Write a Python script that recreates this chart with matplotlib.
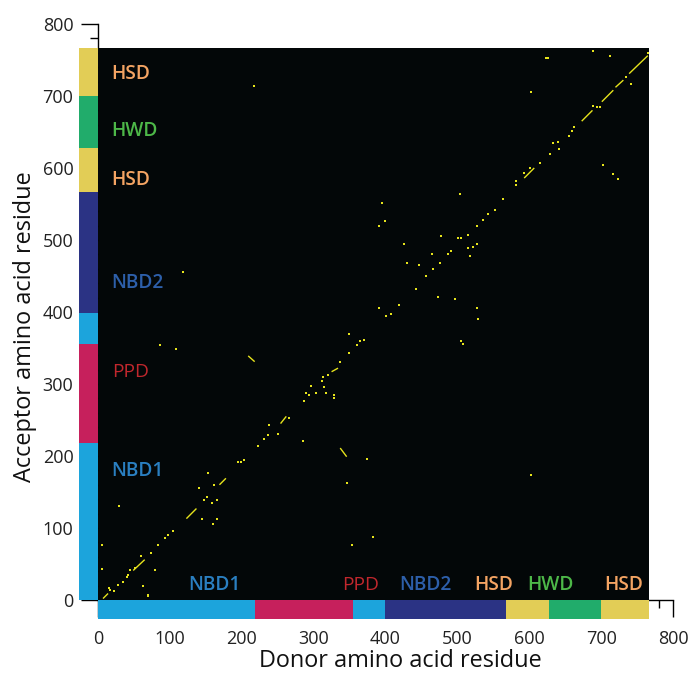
import numpy as np
import matplotlib.pyplot as plt
from matplotlib.patches import Rectangle

plt.rcParams['font.family'] = ['Open Sans', 'DejaVu Sans']

# sequence length covered by the map
n_residues = 766

# domain architecture along the sequence (same on both axes)
domain_names = ['NBD1', 'PPD', 'NBD1', 'NBD2', 'HSD', 'HWD', 'HSD']
domain_starts = [0, 218, 355, 399, 567, 628, 700]
domain_ends = [218, 355, 399, 567, 628, 700, 766]

# single contacts (donor residue, acceptor residue)
donor = [5, 17, 28, 62, 69, 79, 42, 51, 16, 22, 35, 41, 44, 60, 70, 63, 5, 74,
         83, 93, 97, 104, 29, 145, 160, 165, 141, 148, 152, 158, 166, 153, 162,
         195, 199, 203, 223, 231, 236, 250, 238, 266, 285, 286, 289, 293, 296,
         304, 311, 313, 314, 317, 320, 328, 328, 337, 349, 349, 360, 364, 370,
         391, 401, 407, 419, 442, 473, 374, 347, 382, 354, 395, 399, 391, 426,
         430, 447, 466, 457, 465, 476, 477, 487, 491, 501, 505, 504, 515, 515,
         517, 522, 527, 527, 536, 542, 552, 564, 582, 582, 497, 527, 529, 505,
         508, 593, 601, 615, 629, 633, 640, 641, 655, 659, 663, 689, 695, 698,
         735, 741, 765, 689, 712, 623, 626, 602, 702, 716, 724, 217, 118, 86,
         109, 602]
acceptor = [43, 14, 21, 19, 5, 42, 35, 44, 16, 13, 25, 32, 42, 61, 7, 20, 76, 65,
            76, 86, 90, 96, 130, 113, 106, 113, 155, 139, 143, 134, 139, 177, 160,
            191, 192, 194, 214, 223, 229, 231, 243, 253, 221, 277, 288, 284, 297,
            288, 304, 309, 296, 288, 313, 284, 280, 331, 343, 369, 354, 359, 361,
            405, 394, 397, 409, 432, 421, 196, 163, 87, 77, 551, 527, 520, 495,
            468, 465, 460, 450, 481, 468, 505, 481, 484, 503, 503, 564, 507, 489,
            478, 490, 494, 520, 528, 536, 542, 557, 582, 576, 418, 405, 390, 360,
            356, 593, 600, 607, 620, 634, 636, 627, 645, 652, 657, 686, 685, 685,
            726, 716, 760, 763, 755, 753, 753, 706, 604, 591, 585, 714, 456, 354,
            349, 173]

# runs of contacts (helices / strands): donor start, acceptor start, donor end, acceptor end
run_donor_start = [7, 49, 123, 169, 254, 325, 593, 673, 701, 720, 739, 337, 209]
run_acc_start = [2, 41, 113, 160, 245, 317, 586, 665, 692, 712, 731, 211, 339]
run_donor_end = [14, 65, 137, 178, 262, 334, 607, 688, 717, 731, 765, 346, 218]
run_acc_end = [9, 56, 127, 169, 255, 322, 600, 680, 708, 722, 756, 199, 331]

bar_colors = {'NBD1': '#1ca4dc', 'PPD': '#c6205c', 'NBD2': '#2b3384',
              'HSD': '#e2cd56', 'HWD': '#21ac6b'}
text_colors = {'NBD1': '#2a7fc1', 'PPD': '#c1272d', 'NBD2': '#2d5faa',
               'HSD': '#f4a463', 'HWD': '#4db848'}
dot_color = '#e6e31c'

fig = plt.figure(figsize=(6.91, 6.73), dpi=100)
ax = fig.add_axes([0.1418, 0.1085, 0.8321, 0.8559])

ax.set_xlim(0, 800)
ax.set_ylim(0, 800)

# black map background
ax.add_patch(Rectangle((0, 0), n_residues, n_residues, facecolor='#030708',
                       edgecolor='none', zorder=1))

for x0, y0, x1, y1 in zip(run_donor_start, run_acc_start, run_donor_end, run_acc_end):
    ax.plot([x0, x1], [y0, y1], color=dot_color, lw=1.0, solid_capstyle='butt', zorder=2)
ax.plot(donor, acceptor, 's', ms=1.7, mew=0, color=dot_color, zorder=2)

# domain bars along both axes
bar = 26
for name, s, e in zip(domain_names, domain_starts, domain_ends):
    ax.add_patch(Rectangle((s, -bar), e - s, bar, facecolor=bar_colors[name],
                           edgecolor='none', clip_on=False, zorder=3))
    ax.add_patch(Rectangle((-bar, s), bar, e - s, facecolor=bar_colors[name],
                           edgecolor='none', clip_on=False, zorder=3))

# domain labels inside the map
bottom_names = ['NBD1', 'PPD', 'NBD2', 'HSD', 'HWD', 'HSD']
bottom_x = [162, 365, 456, 550, 630, 731]
for name, x in zip(bottom_names, bottom_x):
    ax.text(x, 21, name, color=text_colors[name], fontsize=13.8, ha='center', va='center',
            fontweight='normal' if name == 'PPD' else 'semibold', zorder=4)
left_names = ['HSD', 'HWD', 'HSD', 'NBD2', 'PPD', 'NBD1']
left_y = [731, 652, 583, 440, 317, 179]
for name, y in zip(left_names, left_y):
    ax.text(19, y, name, color=text_colors[name], fontsize=13.8, ha='left', va='center',
            fontweight='normal' if name == 'PPD' else 'semibold', zorder=4)

for side in ['top', 'right']:
    ax.spines[side].set_visible(False)
for side in ['left', 'bottom']:
    ax.spines[side].set_zorder(0.5)
    ax.spines[side].set_linewidth(1.0)

ax.set_xticks(np.arange(0, 801, 100))
ax.set_yticks(np.arange(0, 801, 100))
ax.set_xticks(np.arange(0, 801, 20), minor=True)
ax.set_yticks(np.arange(0, 801, 20), minor=True)
ax.tick_params(which='major', direction='out', length=12.2, width=1.0,
               labelsize=13, labelcolor='#222222')
ax.tick_params(which='minor', direction='out', length=6, width=1.0)
ax.tick_params(axis='x', which='major', pad=9.5)
ax.tick_params(axis='y', which='major', pad=5.5)

fig.text(400 / 691, 6 / 673, 'Donor amino acid residue', fontsize=16.9,
         ha='center', va='baseline', color='#111111')
fig.text(25 / 691, 1 - 327 / 673, 'Acceptor amino acid residue', fontsize=16.9,
         rotation=90, ha='center', va='center', color='#111111')

fig.savefig('out.png', dpi=100)
